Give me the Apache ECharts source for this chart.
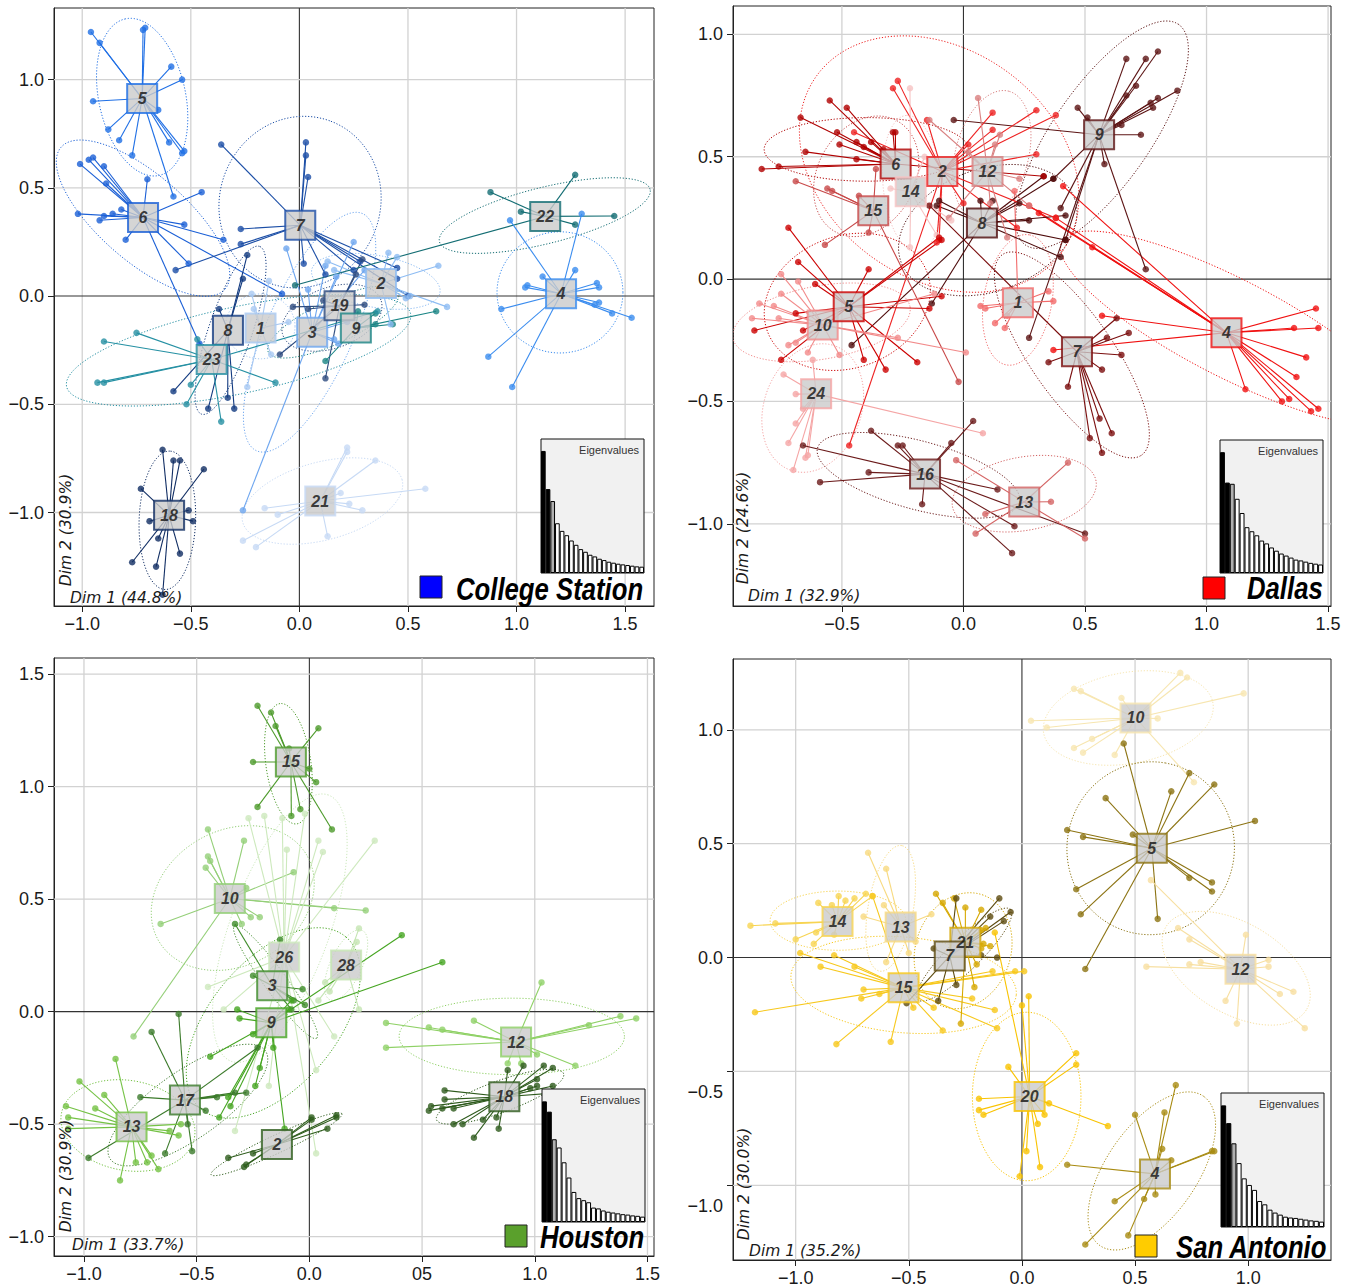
<!DOCTYPE html>
<html><head><meta charset="utf-8">
<script src="https://cdn.jsdelivr.net/npm/echarts@6/dist/echarts.min.js"></script>
<style>html,body{margin:0;padding:0;background:#fff}#c{width:1349px;height:1287px}</style>
</head><body><div id="c"></div>
<script>
// ================= DATA =================
// ---- College Station ----
const csCenters = [[5,-0.724,0.913],[6,-0.720,0.363],[7,0.004,0.327],[22,1.132,0.368],[4,1.205,0.011],[18,-0.600,-1.013],[21,0.096,-0.947],[8,-0.329,-0.158],[23,-0.404,-0.293],[1,-0.179,-0.148],[3,0.059,-0.167],[19,0.185,-0.045],[9,0.260,-0.148],[2,0.376,0.058]];
const csPoints = [
[5,-0.96,1.22],[5,-0.92,1.17],[5,-0.72,1.23],[5,-0.71,1.24],[5,-0.59,1.06],[5,-0.54,1.00],[5,-0.95,0.90],[5,-0.88,0.77],[5,-0.83,0.72],[5,-0.77,0.65],[5,-0.65,0.86],[5,-0.60,0.71],[5,-0.54,0.66],[5,-0.53,0.67],[5,-0.58,0.46],
[6,-1.01,0.61],[6,-0.97,0.63],[6,-0.95,0.64],[6,-0.90,0.60],[6,-0.89,0.52],[6,-0.70,0.54],[6,-1.02,0.38],[6,-0.92,0.35],[6,-0.90,0.37],[6,-0.86,0.38],[6,-0.82,0.40],[6,-0.80,0.26],[6,-0.45,0.48],[6,-0.53,0.33],[6,-0.35,0.26],[6,-0.51,0.15],[6,-0.08,0.01],[6,-0.46,-0.22],
[7,-0.36,0.70],[7,0.03,0.71],[7,0.03,0.65],[7,0.04,0.55],[7,-0.27,0.31],[7,-0.27,0.24],[7,-0.57,0.12],[7,0.02,0.15],[7,0.45,0.13],[7,0.28,0.16],[7,0.25,0.12],[7,0.50,0.00],[7,0.12,0.10],[7,0.45,0.08],
[8,-0.24,0.19],[8,-0.26,0.08],[8,-0.37,-0.06],[8,-0.33,-0.47],[8,-0.30,-0.52],[8,-0.42,-0.52],[8,-0.58,-0.44],
[1,-0.22,0.01],[1,-0.21,-0.06],[1,-0.24,-0.42],[1,-0.13,-0.27],[1,-0.14,0.07],[1,-0.05,-0.12],
[3,-0.06,0.22],[3,0.12,0.14],[3,0.17,0.09],[3,0.25,0.25],[3,0.30,0.12],[3,0.18,-0.22],[3,0.16,-0.20],[3,-0.26,-0.99],[3,0.04,0.03],[3,0.22,-0.12],
[19,-0.03,-0.05],[19,0.04,-0.06],[19,0.11,-0.02],[19,0.30,-0.04],[19,0.29,0.17],[19,0.12,-0.38],[19,-0.09,-0.27],[19,0.26,0.10],
[9,0.35,-0.08],[9,0.35,-0.13],[9,0.63,-0.07],[9,0.12,-0.30],[9,0.27,-0.07],[9,0.43,-0.13],
[2,0.41,0.20],[2,0.45,0.18],[2,0.64,0.14],[2,0.68,-0.05],[2,0.49,-0.01],[2,0.42,-0.13],[2,0.16,0.12],[2,0.13,0.16],[2,0.51,0.00],
[23,-0.90,-0.21],[23,-0.75,-0.17],[23,-0.93,-0.40],[23,-0.90,-0.40],[23,-0.11,-0.40],[23,-0.47,-0.20],[23,-0.50,-0.41],[23,-0.52,-0.50],[23,-0.36,-0.58],[23,0.36,-0.07],
[22,0.88,0.48],[22,1.02,0.39],[22,1.27,0.56],[22,1.27,0.33],[22,1.45,0.37],[22,-0.02,0.05],
[4,0.97,0.35],[4,1.30,0.38],[4,1.27,0.12],[4,1.12,0.09],[4,1.04,0.04],[4,1.05,0.05],[4,1.37,0.06],[4,1.38,0.04],[4,1.38,-0.03],[4,1.36,-0.04],[4,1.44,-0.08],[4,1.53,-0.10],[4,0.93,-0.06],[4,0.87,-0.28],[4,0.98,-0.42],
[18,-0.63,-0.71],[18,-0.58,-0.76],[18,-0.55,-0.76],[18,-0.44,-0.80],[18,-0.73,-0.89],[18,-0.69,-1.04],[18,-0.51,-0.99],[18,-0.49,-1.04],[18,-0.65,-1.12],[18,-0.55,-1.19],[18,-0.77,-1.23],[18,-0.66,-1.25],[18,-0.63,-1.38],
[21,0.22,-0.70],[21,0.22,-0.72],[21,0.35,-0.76],[21,0.58,-0.89],[21,0.19,-0.91],[21,0.23,-0.96],[21,0.29,-0.99],[21,-0.16,-0.98],[21,-0.10,-1.01],[21,-0.26,-1.13],[21,-0.20,-1.16],[21,0.13,-1.11]
];
// [cluster, cx, cy, semi-axis a, semi-axis b, angle deg]
const csEllipses = [[5,-0.724,0.919,0.37,0.20,102],[6,-0.72,0.36,0.50,0.20,-41],[7,0.003,0.434,0.40,0.37,70],[8,-0.317,-0.158,0.41,0.10,71],[1,-0.18,-0.14,0.16,0.15,0],[3,0.047,-0.167,0.60,0.20,66],[19,0.15,-0.10,0.24,0.14,20],[9,0.156,-0.12,0.33,0.10,25],[2,0.352,0.068,0.30,0.12,-10],[23,-0.28,-0.25,0.81,0.20,12],[22,1.13,0.372,0.50,0.13,14],[4,1.20,0.017,0.29,0.28,0],[18,-0.608,-1.036,0.32,0.13,88],[21,0.106,-0.947,0.38,0.18,15]];
const csEigen = [368,253,217,150,127,114,98,85,72,64,55,50,43,39,34,31,28,26,24,22,20,19];
const csXTicks = [-1,-0.5,0,0.5,1,1.5];
const csYTicks = [-1,-0.5,0,0.5,1];

// ---- Dallas ----
const daCenters = [[6,-0.279,0.470],[12,0.099,0.440],[14,-0.217,0.357],[2,-0.087,0.440],[15,-0.371,0.279],[8,0.076,0.229],[9,0.558,0.590],[10,-0.579,-0.188],[5,-0.472,-0.113],[1,0.224,-0.097],[7,0.467,-0.297],[4,1.082,-0.219],[24,-0.606,-0.469],[16,-0.158,-0.797],[13,0.250,-0.911]];
const daPoints = [
[4,1.45,-0.12],[4,1.36,-0.20],[4,1.46,-0.20],[4,1.41,-0.32],[4,1.37,-0.40],[4,1.34,-0.49],[4,1.31,-0.50],[4,1.43,-0.54],[4,1.46,-0.53],[4,1.16,-0.45],[4,0.41,0.38],[4,0.38,0.25],[4,0.31,0.27],[4,0.27,0.30],[4,0.57,-0.15],[4,0.37,-0.29],[4,0.53,0.13],
[9,0.67,0.90],[9,0.75,0.90],[9,0.80,0.93],[9,0.71,0.79],[9,0.67,0.75],[9,0.88,0.77],[9,0.80,0.74],[9,0.78,0.70],[9,0.77,0.72],[9,0.65,0.63],[9,0.73,0.59],[9,0.47,0.70],[9,0.51,0.66],[9,0.58,0.47],[9,0.75,0.04],[9,0.37,0.41],[9,0.40,0.29],[9,0.42,0.16],[9,0.27,-0.24],[9,-0.04,0.65],
[7,0.63,-0.16],[7,0.68,-0.22],[7,0.59,-0.24],[7,0.65,-0.31],[7,0.35,-0.34],[7,0.43,-0.44],[7,0.52,-0.65],[7,0.56,-0.57],[7,0.61,-0.63],[7,0.57,-0.71],[7,0.57,-0.37],[7,-0.14,0.30],
[1,0.09,-0.12],[1,0.13,-0.18],[1,0.17,-0.20],[1,0.18,-0.15],[1,0.37,-0.09],[1,0.35,-0.05],[1,0.21,0.36],[1,0.07,-0.11],
[8,0.33,0.42],[8,0.37,0.41],[8,0.42,0.26],[8,0.27,0.24],[8,0.23,0.31],[8,0.12,0.32],[8,0.07,0.32],[8,-0.10,0.32],[8,-0.11,0.30],[8,0.42,0.16],[8,-0.13,-0.10],[8,-0.46,-0.27],[8,0.40,0.09],
[2,-0.27,0.81],[2,-0.29,0.78],[2,0.12,0.68],[2,0.30,0.69],[2,0.38,0.67],[2,0.12,0.61],[2,0.02,0.55],[2,0.30,0.51],[2,0.38,0.25],[2,-0.10,0.16],[2,-0.11,0.15],[2,-0.47,-0.68],[2,0.22,0.21],[2,0.00,0.31],[2,-0.45,0.60],[2,-0.15,0.65],
[6,-0.83,0.45],[6,-0.76,0.46],[6,-0.65,0.52],[6,-0.52,0.60],[6,-0.51,0.55],[6,-0.44,0.56],[6,-0.44,0.49],[6,-0.41,0.54],[6,-0.38,0.56],[6,-0.29,0.60],[6,-0.28,0.60],[6,-0.55,0.73],[6,-0.48,0.70],[6,-0.67,0.66],[6,0.33,0.42],[6,-0.33,0.53],
[12,0.06,0.74],[12,0.15,0.59],[12,0.13,0.55],[12,-0.14,0.65],[12,0.27,0.30],[12,0.23,0.41],[12,0.18,0.17],[12,0.11,0.31],[12,-0.06,0.25],[12,0.02,0.52],
[14,-0.22,0.78],[14,-0.22,0.13],[14,-0.11,0.18],[14,-0.05,0.24],[14,-0.30,0.37],[14,-0.16,0.50],
[15,-0.69,0.40],[15,-0.56,0.37],[15,-0.54,0.36],[15,-0.43,0.34],[15,-0.39,0.19],[15,-0.57,0.14],[15,-0.02,-0.42],[15,-0.36,0.45],
[5,-0.72,0.21],[5,-0.68,0.07],[5,-0.61,-0.02],[5,-0.39,0.04],[5,-0.66,-0.21],[5,-0.75,-0.33],[5,-0.86,-0.21],[5,-0.41,-0.33],[5,-0.32,-0.37],[5,-0.19,-0.34],[5,-0.14,-0.12],[5,-0.09,-0.07],[5,-0.10,0.17],[5,-0.09,0.16],[5,-0.69,-0.14],
[10,-0.75,0.02],[10,-0.68,-0.01],[10,-0.75,-0.06],[10,-0.78,-0.11],[10,-0.84,-0.10],[10,-0.87,-0.16],[10,-0.76,-0.16],[10,-0.72,-0.27],[10,-0.69,-0.26],[10,-0.64,-0.30],[10,-0.51,-0.31],[10,-0.27,-0.24],[10,0.01,-0.30],[10,-0.12,-0.06],
[24,-0.72,-0.67],[24,-0.69,-0.59],[24,-0.70,-0.78],[24,-0.65,-0.73],[24,-0.64,-0.72],[24,-0.69,-0.47],[24,-0.74,-0.39],[24,0.08,-0.63],[24,-0.66,-0.53],[24,-0.62,-0.33],
[16,-0.38,-0.62],[16,-0.27,-0.68],[16,-0.25,-0.68],[16,-0.05,-0.67],[16,0.04,-0.58],[16,-0.66,-0.68],[16,-0.39,-0.79],[16,-0.59,-0.83],[16,-0.17,-0.92],[16,0.14,-0.86],[16,0.21,-1.01],[16,0.20,-1.12],[16,0.50,-1.04],
[13,-0.03,-0.74],[13,0.43,-0.75],[13,0.36,-0.91],[13,0.09,-0.96],[13,0.05,-1.04],[13,0.50,-1.06]
];
const daEllipses = [[4,1.10,-0.20,0.78,0.20,-27],[9,0.57,0.59,0.55,0.20,55],[7,0.446,-0.31,0.50,0.17,-55],[1,0.224,-0.085,0.27,0.14,80],[8,0.10,0.20,0.38,0.25,20],[2,-0.10,0.47,0.62,0.47,-35],[6,-0.40,0.53,0.42,0.13,0],[12,0.117,0.507,0.27,0.15,75],[14,-0.211,0.39,0.28,0.12,95],[15,-0.40,0.42,0.26,0.20,60],[5,-0.478,-0.093,0.35,0.27,20],[10,-0.584,-0.177,0.37,0.15,10],[24,-0.62,-0.527,0.27,0.20,70],[16,-0.185,-0.802,0.43,0.14,-15],[13,0.25,-0.877,0.30,0.15,10]];
const daEigen = [298,223,220,183,148,113,103,93,80,73,63,55,48,43,38,33,31,28,25,23,21];
const daXTicks = [-0.5,0,0.5,1,1.5];
const daYTicks = [-1,-0.5,0,0.5,1];

// ---- Houston ----
const hoCenters = [[15,-0.082,1.110],[10,-0.353,0.503],[26,-0.112,0.243],[28,0.163,0.207],[3,-0.165,0.115],[9,-0.169,-0.049],[17,-0.552,-0.393],[13,-0.789,-0.512],[2,-0.144,-0.590],[12,0.917,-0.135],[18,0.865,-0.378]];
const hoPoints = [
[15,-0.23,1.36],[15,-0.17,1.33],[15,-0.15,1.27],[15,0.04,1.26],[15,-0.25,1.11],[15,0.00,1.08],[15,0.03,1.02],[15,-0.23,0.91],[15,-0.08,0.87],[15,-0.04,0.90],[15,0.10,0.81],[15,-0.09,1.17],
[10,-0.45,0.81],[10,-0.45,0.69],[10,-0.44,0.67],[10,-0.46,0.64],[10,-0.29,0.76],[10,-0.07,0.62],[10,-0.28,0.55],[10,-0.66,0.39],[10,-0.26,0.42],[10,-0.22,0.42],[10,-0.30,0.39],[10,0.25,0.45],[10,0.11,0.46],[10,-0.78,-0.11],
[26,-0.27,0.86],[26,-0.20,0.87],[26,-0.12,0.86],[26,-0.10,0.72],[26,0.04,0.76],[26,0.06,0.71],[26,0.29,0.76],[26,-0.45,0.11],[26,-0.38,0.01],[26,-0.33,-0.53],[26,-0.18,-0.33],[26,0.03,-0.26],[26,0.11,-0.11],[26,0.03,-0.63],[26,-0.02,0.88],
[28,0.22,0.37],[28,0.21,0.31],[28,0.07,0.13],[28,0.09,0.09],[28,0.04,0.05],[28,0.22,0.01],
[3,-0.33,0.39],[3,-0.13,0.32],[3,-0.25,0.16],[3,-0.03,0.10],[3,-0.07,0.05],[3,-0.02,0.03],[3,-0.08,0.01],
[9,-0.32,0.01],[9,-0.31,-0.03],[9,-0.25,-0.10],[9,-0.44,-0.20],[9,-0.16,-0.16],[9,-0.22,-0.25],[9,-0.24,-0.33],[9,-0.36,-0.38],[9,-0.35,-0.42],[9,-0.40,-0.47],[9,-0.09,0.01],[9,-0.08,0.05],[9,0.41,0.34],[9,0.59,0.22],[9,-0.11,-0.52],
[17,-0.58,-0.01],[17,-0.70,-0.09],[17,-0.75,-0.38],[17,-0.46,-0.44],[17,-0.54,-0.50],[17,-0.52,-0.62],[17,-0.64,-0.63],[17,-0.41,-0.38],[17,-0.33,-0.36],[17,-0.28,-0.36],[17,-0.98,-0.65],[17,-0.23,-0.16],
[13,-1.02,-0.31],[13,-1.08,-0.42],[13,-1.07,-0.47],[13,-0.91,-0.37],[13,-0.95,-0.43],[13,-0.86,-0.21],[13,-0.84,-0.75],[13,-0.77,-0.67],[13,-0.72,-0.67],[13,-0.67,-0.70],[13,-0.62,-0.53],[13,-0.57,-0.50],[13,-0.70,-0.64],[13,-1.07,-0.52],[13,-0.58,-0.55],
[2,-0.36,-0.65],[2,-0.28,-0.68],[2,-0.29,-0.69],[2,-0.25,-0.63],[2,0.01,-0.48],[2,0.08,-0.52],[2,0.12,-0.46],[2,0.01,-0.47],[2,0.12,-0.47],
[12,0.34,-0.05],[12,0.34,-0.16],[12,0.53,-0.07],[12,0.59,-0.08],[12,0.73,-0.04],[12,1.03,0.13],[12,1.24,-0.06],[12,1.38,-0.02],[12,1.45,-0.03],[12,1.18,-0.24],[12,1.01,-0.19],[12,0.88,-0.23],[12,0.94,-0.23],
[18,0.53,-0.44],[18,0.54,-0.42],[18,0.59,-0.43],[18,0.64,-0.43],[18,0.60,-0.39],[18,0.60,-0.35],[18,0.64,-0.50],[18,0.68,-0.50],[18,0.73,-0.56],[18,0.77,-0.48],[18,0.84,-0.52],[18,0.83,-0.47],[18,0.88,-0.26],[18,0.95,-0.24],[18,1.01,-0.30],[18,1.04,-0.24],[18,1.08,-0.25],[18,1.01,-0.33],[18,1.08,-0.33],[18,1.11,-0.36],[18,0.98,-0.34]
];
const hoEllipses = [[15,-0.093,1.102,0.27,0.10,98],[10,-0.34,0.505,0.38,0.30,30],[26,-0.131,0.371,0.63,0.22,70],[28,0.163,0.207,0.17,0.07,65],[3,-0.15,0.133,0.31,0.05,-54],[9,-0.16,-0.05,0.50,0.28,50],[17,-0.539,-0.415,0.42,0.15,35],[13,-0.805,-0.506,0.30,0.20,-10],[2,-0.146,-0.589,0.32,0.04,25],[12,0.898,-0.11,0.50,0.17,0],[18,0.846,-0.378,0.30,0.07,20]];
const hoEigen = [293,268,201,181,145,108,73,58,53,48,35,33,28,25,23,21,19,18,16,15,13];
const hoXTicks = [-1,-0.5,0,0.5,1,1.5];
const hoYTicks = [-1,-0.5,0,0.5,1,1.5];

// ---- San Antonio ----
const saCenters = [[10,0.502,1.052],[5,0.574,0.480],[12,0.966,-0.051],[14,-0.815,0.158],[13,-0.536,0.134],[15,-0.523,-0.133],[21,-0.250,0.067],[7,-0.319,0.007],[20,0.034,-0.610],[4,0.588,-0.950]];
const saPoints = [
[10,0.23,1.18],[10,0.26,1.17],[10,0.44,1.14],[10,0.70,1.25],[10,0.73,1.23],[10,0.98,1.16],[10,0.04,1.04],[10,0.11,1.01],[10,0.23,0.92],[10,0.27,0.90],[10,0.31,0.96],[10,0.41,0.89],[10,0.60,1.05],[10,0.76,0.77],
[5,0.45,0.94],[5,0.74,0.81],[5,0.85,0.76],[5,0.66,0.73],[5,0.37,0.70],[5,0.20,0.56],[5,0.27,0.53],[5,0.49,0.54],[5,1.03,0.60],[5,0.24,0.30],[5,0.26,0.19],[5,0.74,0.35],[5,0.84,0.33],[5,0.84,0.29],[5,0.60,0.17],[5,0.28,-0.05],
[12,0.69,0.13],[12,0.74,0.08],[12,0.79,-0.02],[12,0.74,-0.03],[12,0.55,-0.04],[12,0.99,0.10],[12,1.09,-0.01],[12,1.09,-0.04],[12,1.14,-0.16],[12,1.20,-0.15],[12,1.25,-0.31],[12,0.90,-0.19],[12,0.95,-0.29],[12,0.57,0.34],
[14,-1.20,0.14],[14,-1.09,0.15],[14,-1.00,0.08],[14,-0.92,0.06],[14,-0.90,0.24],[14,-0.84,0.23],[14,-0.81,0.27],[14,-0.78,0.25],[14,-0.74,0.26],[14,-0.69,0.28],[14,-0.66,0.27],[14,-0.83,0.10],[14,-0.91,0.11],
[13,-0.68,0.46],[13,-0.60,0.39],[13,-0.61,0.23],[13,-0.40,0.19],[13,-0.47,0.07],[13,-0.50,0.02],[13,-0.60,-0.02],[13,-0.70,0.18],
[15,-1.18,-0.24],[15,-0.98,0.02],[15,-0.89,-0.04],[15,-0.83,0.01],[15,-0.74,-0.04],[15,-0.70,-0.14],[15,-0.71,-0.18],[15,-0.63,-0.16],[15,-0.82,-0.38],[15,-0.58,-0.37],[15,-0.35,-0.32],[15,-0.39,-0.22],[15,-0.48,-0.22],[15,-0.11,-0.31],[15,-0.12,-0.23],[15,-0.22,-0.18],[15,-0.13,-0.06],[15,-0.03,-0.06],[15,0.01,-0.06],[15,-0.66,0.27],
[21,-0.35,0.24],[21,-0.30,0.26],[21,-0.25,0.22],[21,-0.18,0.21],[21,-0.16,0.13],[21,-0.18,0.12],[21,-0.17,0.06],[21,-0.14,0.05],[21,-0.18,0.04],[21,-0.20,-0.03],[21,-0.21,-0.13],[21,-0.27,-0.29],[21,-0.38,0.28],
[7,-0.10,0.26],[7,-0.05,0.20],[7,-0.08,0.16],[7,-0.14,0.18],[7,-0.18,0.01],[7,-0.11,0.00],[7,-0.37,-0.19],[7,-0.51,-0.20],[7,-0.39,0.04],[7,-0.29,0.26],[7,-0.29,-0.12],
[20,0.00,-0.21],[20,0.03,-0.17],[20,-0.06,-0.48],[20,-0.19,-0.62],[20,-0.19,-0.67],[20,-0.17,-0.69],[20,0.24,-0.42],[20,0.24,-0.47],[20,0.12,-0.64],[20,0.10,-0.69],[20,0.07,-0.73],[20,0.38,-0.74],[20,0.02,-0.85],[20,0.08,-0.92],[20,-0.01,-0.96],[20,-0.12,0.11],
[4,0.68,-0.56],[4,0.63,-0.68],[4,0.50,-0.69],[4,0.62,-0.84],[4,0.66,-0.89],[4,0.84,-0.85],[4,0.85,-0.85],[4,0.20,-0.91],[4,0.41,-1.07],[4,0.54,-1.06],[4,0.59,-1.04],[4,0.28,-1.26],[4,0.47,-1.22]
];
const saEllipses = [[10,0.47,1.052,0.38,0.20,10],[5,0.569,0.48,0.38,0.37,80],[12,0.947,-0.047,0.36,0.20,-30],[14,-0.813,0.162,0.30,0.13,0],[13,-0.58,0.216,0.28,0.10,80],[15,-0.523,-0.12,0.50,0.21,-5],[21,-0.26,0.03,0.26,0.21,70],[7,-0.255,0.013,0.285,0.07,44],[20,0.021,-0.61,0.37,0.24,90],[4,0.574,-0.937,0.40,0.20,55]];
const saEigen = [295,252,203,155,118,102,90,63,55,42,35,30,25,23,22,20,18,16,15,13];
const saXTicks = [-1,-0.5,0,0.5,1];
const saYTicks = [-1,-0.5,0,0.5,1];

// ================= STYLES =================
const csColors = {5:'#1f6fe5',6:'#1a5fd6',7:'#1b4ea6',8:'#123a80',1:'#a9c9f2',3:'#6ea6ef',19:'#2c4a7e',9:'#1a8585',2:'#8dbcf3',23:'#2590a3',22:'#136d73',4:'#3a8cef',18:'#102d63',21:'#c7daf5'};
const daColors = {6:'#b00000',2:'#ee2222',12:'#d98080',14:'#f6c3c3',15:'#c84848',8:'#4d0a0a',9:'#5c1414',5:'#cc0000',10:'#f28a8a',1:'#f26a6a',7:'#7a0d0d',4:'#f01010',24:'#f5a5a5',16:'#6b1a1a',13:'#d46464'};
const hoColors = {15:'#4c9a2a',10:'#94cf78',26:'#cde9bd',28:'#c4e5b2',3:'#3f8c2a',9:'#45a521',17:'#3b7a2a',13:'#74c244',2:'#2d5c1b',12:'#8fd166',18:'#2d5a1c'};
const saColors = {10:'#f7e6b0',5:'#8c7312',12:'#f7dfa0',14:'#f7d451',13:'#f8da80',21:'#d6a800',7:'#5c4a0e',15:'#f7c81c',20:'#f9c300',4:'#a88b12'};

function fmt(v){ return (v<0?'\u2212':'') + Math.abs(v).toFixed(1); }

const panels = [
 {name:'College Station', lc:'#0000ff', C:csCenters, P:csPoints, E:csEllipses, eig:csEigen, eigMax:404, col:csColors,
  g:{left:54,top:8,width:600,height:598}, x:[-1.13,1.633], y:[-1.432,1.331], xt:csXTicks, yt:csYTicks,
  d1:'Dim 1 (44.8%)', d2:'Dim 2 (30.9%)', d1p:[70,598], d2p:[66,530], inset:[541,439,103,134], box:[420,576], tx:[456,589]},
 {name:'Dallas', lc:'#ff0000', C:daCenters, P:daPoints, E:daEllipses, eig:daEigen, eigMax:328, col:daColors,
  g:{left:733,top:6,width:598,height:600}, x:[-0.948,1.512], y:[-1.336,1.116], xt:daXTicks, yt:daYTicks,
  d1:'Dim 1 (32.9%)', d2:'Dim 2 (24.6%)', d1p:[748,596], d2p:[743,528], inset:[1220,440,103,133], box:[1203,577], tx:[1247,588]},
 {name:'Houston', lc:'#5aa02c', C:hoCenters, P:hoPoints, E:hoEllipses, eig:hoEigen, eigMax:323, col:hoColors,
  g:{left:54,top:658,width:600,height:598}, x:[-1.133,1.529], y:[-1.086,1.572], xt:hoXTicks, yt:hoYTicks, xfmt:(v)=>v===0.5?'05':fmt(v),
  d1:'Dim 1 (33.7%)', d2:'Dim 2 (30.9%)', d1p:[72,1245], d2p:[66,1176], inset:[542,1089,103,133], box:[505,1225], tx:[540,1237]},
 {name:'San Antonio', lc:'#ffcc00', C:saCenters, P:saPoints, E:saEllipses, eig:saEigen, eigMax:325, col:saColors,
  g:{left:733,top:659,width:598,height:601}, x:[-1.277,1.366], y:[-1.328,1.311], xt:saXTicks, yt:saYTicks, yneg:true,
  d1:'Dim 1 (35.2%)', d2:'Dim 2 (30.0%)', d1p:[749,1251], d2p:[744,1184], inset:[1221,1093,103,134], box:[1135,1235], tx:[1176,1247]}
];

const TF = '"Liberation Sans", Arial, sans-serif';
const option = {animation:false, backgroundColor:'#ffffff', grid:[], xAxis:[], yAxis:[], series:[], graphic:[]};

panels.forEach((p,i)=>{
  const g = p.g;
  option.grid.push({left:g.left, top:g.top, width:g.width, height:g.height, show:true, borderColor:'#222', borderWidth:1, backgroundColor:'rgba(0,0,0,0)', z:0});
  option.xAxis.push({type:'value', gridIndex:i, min:p.x[0], max:p.x[1],
    axisLine:{show:true, onZero:false, lineStyle:{color:'#222', width:1}},
    axisTick:{show:true, length:6, customValues:p.xt, lineStyle:{color:'#222'}},
    axisLabel:{show:true, customValues:p.xt, formatter:p.xfmt||fmt, fontSize:18, fontFamily:TF, color:'#1a1a1a', margin:9},
    splitLine:{show:false}});
  const yl = {show:true, customValues:p.yt, fontSize:18, fontFamily:TF, color:'#1a1a1a', margin:10};
  if (p.yneg) {
    yl.formatter = (v)=> v<0 ? '{n|'+fmt(v)+'}' : fmt(v);
    yl.rich = {n:{fontSize:18, fontFamily:TF, color:'#1a1a1a', padding:[41,0,0,0]}};
  } else yl.formatter = fmt;
  option.yAxis.push({type:'value', gridIndex:i, min:p.y[0], max:p.y[1],
    axisLine:{show:true, onZero:false, lineStyle:{color:'#222', width:1}},
    axisTick:{show:true, length:6, customValues:p.yt, lineStyle:{color:'#222'}},
    axisLabel:yl, splitLine:{show:false}});

  // grid lines (value, orientation 0=vertical 1=horizontal)
  const gl = [];
  p.xt.forEach(v=>gl.push([v,0]));
  p.yt.forEach(v=>gl.push([v,1]));
  option.series.push({type:'custom', xAxisIndex:i, yAxisIndex:i, z:1, silent:true, data:gl,
    encode:{x:-1,y:-1},
    renderItem:(params, api)=>{
      const cs = params.coordSys; const v = api.value(0), o = api.value(1);
      const dark = v===0;
      let shape;
      if (o===0){ const px = api.coord([v,0])[0]; shape={x1:px,y1:cs.y,x2:px,y2:cs.y+cs.height}; }
      else { const py = api.coord([0,v])[1]; shape={x1:cs.x,y1:py,x2:cs.x+cs.width,y2:py}; }
      return {type:'line', shape, style:{stroke: dark?'#333333':'#d2d2d2', lineWidth: dark?1.1:1.3}};
    }});

  // ellipses
  option.series.push({type:'custom', xAxisIndex:i, yAxisIndex:i, z:2, silent:true, clip:true,
    data:p.E.map(e=>[e[1],e[2],e[3],e[4],e[5],e[0]]), encode:{x:0,y:1},
    renderItem:(params, api)=>{
      const cx=api.value(0), cy=api.value(1), a=api.value(2), b=api.value(3), th=api.value(4)*Math.PI/180, lab=api.value(5);
      const pts=[];
      for(let k=0;k<=90;k++){ const t=k/90*2*Math.PI; const ex=a*Math.cos(t), ey=b*Math.sin(t);
        pts.push(api.coord([cx+ex*Math.cos(th)-ey*Math.sin(th), cy+ex*Math.sin(th)+ey*Math.cos(th)])); }
      return {type:'polyline', shape:{points:pts}, style:{stroke:p.col[lab], lineWidth:1, lineDash:[1.2,1.8], fill:null}};
    }});

  // segments center -> member
  const cmap = {}; p.C.forEach(c=>cmap[c[0]]=c);
  option.series.push({type:'custom', xAxisIndex:i, yAxisIndex:i, z:3, silent:true, clip:true,
    data:p.P.map(pt=>{const c=cmap[pt[0]]; return [c[1],c[2],pt[1],pt[2],pt[0]];}), encode:{x:[0,2],y:[1,3]},
    renderItem:(params, api)=>{
      const a=api.coord([api.value(0),api.value(1)]), b=api.coord([api.value(2),api.value(3)]);
      return {type:'line', shape:{x1:a[0],y1:a[1],x2:b[0],y2:b[1]}, style:{stroke:p.col[api.value(4)], lineWidth:1.1}};
    }});

  // member points
  option.series.push({type:'scatter', xAxisIndex:i, yAxisIndex:i, z:4, silent:true, symbol:'circle', symbolSize:6.5,
    data:p.P.map(pt=>({value:[pt[1],pt[2]], itemStyle:{color:p.col[pt[0]]}}))});

  // centers
  option.series.push({type:'scatter', xAxisIndex:i, yAxisIndex:i, z:5, silent:true, symbol:'rect', symbolSize:[30,29],
    data:p.C.map(c=>({value:[c[1],c[2],c[0]], itemStyle:{color:'#cbcbcb', borderColor:p.col[c[0]], borderWidth:2}})),
    label:{show:true, position:'inside', formatter:(d)=>String(d.value[2]), fontFamily:TF, fontWeight:'bold', fontStyle:'italic', fontSize:16, color:'#111'}});

  // legend key (square + city name)
  option.graphic.push({type:'rect', z:20, silent:true, shape:{x:p.box[0], y:p.box[1], width:22, height:22},
    style:{fill:p.lc, stroke:'#222', lineWidth:1}});
  option.graphic.push({type:'text', x:p.tx[0], y:p.tx[1], scaleX:0.83, z:20, silent:true,
    style:{text:p.name, font:'italic bold 31px "Liberation Sans"', fill:'#000', textAlign:'left', textVerticalAlign:'middle'}});

  // Dim labels
  option.graphic.push({type:'text', x:p.d1p[0], y:p.d1p[1], z:20, silent:true,
    style:{text:p.d1, font:'italic 15.5px "DejaVu Sans"', fill:'#1a1a1a', textAlign:'left', textVerticalAlign:'middle'}});
  option.graphic.push({type:'text', x:p.d2p[0], y:p.d2p[1], rotation:Math.PI/2, z:20, silent:true,
    style:{text:p.d2, font:'italic 15.5px "DejaVu Sans"', fill:'#1a1a1a', textAlign:'center', textVerticalAlign:'middle'}});
});

// eigenvalue insets
panels.forEach((p,i)=>{
  const gi = 4+i; const r = p.inset;
  option.grid.push({left:r[0], top:r[1], width:r[2], height:r[3], show:true, backgroundColor:'#f1f1f1', borderColor:'#111', borderWidth:1, z:10});
  option.xAxis.push({type:'category', gridIndex:gi, data:p.eig.map((v,k)=>String(k+1)), show:false, boundaryGap:true});
  option.yAxis.push({type:'value', gridIndex:gi, min:0, max:p.eigMax, show:false});
  option.series.push({type:'bar', xAxisIndex:gi, yAxisIndex:gi, z:11, silent:true, barCategoryGap:'0%',
    data:p.eig.map((v,k)=>({value:v, itemStyle:{color:k<2?'#000000':(k===2?'#b0b0b0':'#ffffff'), borderColor:'#000', borderWidth:1}}))});
  option.graphic.push({type:'text', x:r[0]+r[2]-5, y:r[1]+11, z:30, silent:true,
    style:{text:'Eigenvalues', font:'11px "Liberation Sans"', fill:'#333', textAlign:'right', textVerticalAlign:'middle'}});
});

const chart = echarts.init(document.getElementById('c'), null, {renderer:'svg'});
chart.setOption(option);
</script></body></html>
